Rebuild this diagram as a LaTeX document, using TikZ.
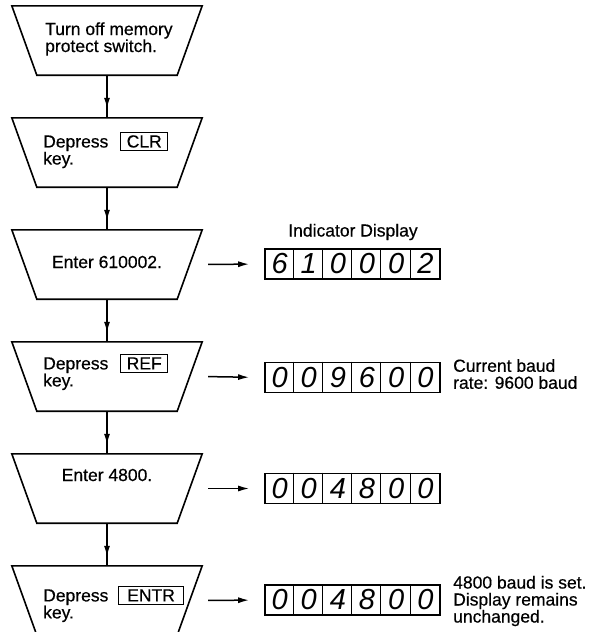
\documentclass[tikz,border=0pt]{standalone}
\usepackage{fontspec}
\setmainfont{Liberation Sans}
\newfontfamily\bodyfont{Liberation Sans}[FakeBold=0.5]
\usetikzlibrary{arrows.meta,decorations.markings,calc}
\newcommand\keyb[2][3pt]{{\setlength\fboxsep{2.5pt}\setlength\fboxrule{0.9pt}\fbox{\hspace{#1}#2\hspace{#1}}}}
\newcommand\dg[1]{\makebox[29.1667pt]{#1}}
\begin{document}
\begin{tikzpicture}[x=1pt,y=-1pt,
  trap/.style={minimum width=190pt, minimum height=69pt, inner sep=0pt},
  txt/.style={font=\bodyfont\fontsize{17.5}{17}\selectfont, align=left, inner sep=0pt},
  disp/.style={draw, line width=1.6pt, minimum width=175pt, minimum height=30pt, inner sep=0pt},
  dig/.style={font=\fontsize{29}{29}\selectfont\itshape, inner sep=0pt},
  varr/.style={line width=1.5pt, postaction={decorate},
    decoration={markings, mark=at position -9pt with {\arrow{Latex[length=11pt,width=6pt]}}}},
  harr/.style={line width=1.5pt, -{Latex[length=11pt,width=6pt]}, shorten <=6pt, shorten >=15pt}
]
\useasboundingbox (0,0) rectangle (595,632);
% flow boxes
\node[trap] (b1) at (107,40.5) {};
\node[trap] (b2) at (107,152.5) {};
\node[trap] (b3) at (107,264.5) {};
\node[trap] (b4) at (107,376.5) {};
\node[trap] (b5) at (107,488.5) {};
\node[trap] (b6) at (107,600.5) {};
\foreach \n in {b1,b2,b3,b4,b5,b6}
  \draw[line width=1.6pt, line join=miter] (\n.north west) -- (\n.north east)
    -- ([xshift=-25pt]\n.south east) -- ([xshift=25pt]\n.south west) -- cycle;
% texts
\node[txt, anchor=west] (t1) at (45,39) {Turn off memory\\protect switch.};
\node[txt, anchor=west] (t2) at (43,150) {Depress\hspace{12pt}\keyb{CLR}\\key.};
\node[txt] (t3) at (107,262) {Enter 610002.};
\node[txt, anchor=west] (t4) at (43,372) {Depress\hspace{12pt}\keyb{REF}\\key.};
\node[txt] (t5) at (107,475) {Enter 4800.};
\node[txt, anchor=west] (t6) at (43,604) {Depress\hspace{10pt}\keyb[5.5pt]{ENTR}\\key.};
% vertical arrows
\draw[varr] (b1.south) -- (b2.north);
\draw[varr] (b2.south) -- (b3.north);
\draw[varr] (b3.south) -- (b4.north);
\draw[varr] (b4.south) -- (b5.north);
\draw[varr] (b5.south) -- (b6.north);
% displays
\node[disp] (d1) at (352.5,264) {};
\node[disp] (d2) at (352.5,377.5) {};
\node[disp] (d3) at (352.5,488.5) {};
\node[disp] (d4) at (352.5,600) {};
\foreach \d in {d1,d2,d3,d4}
  \foreach \i in {1,...,5}
    \draw[line width=0.8pt] ($(\d.north west)+(\i*29.1667,0)$) -- ($(\d.south west)+(\i*29.1667,0)$);
\node[dig] (n1) at (d1) {\dg6\dg1\dg0\dg0\dg0\dg2};
\node[dig] (n2) at (d2) {\dg0\dg0\dg9\dg6\dg0\dg0};
\node[dig] (n3) at (d3) {\dg0\dg0\dg4\dg8\dg0\dg0};
\node[dig] (n4) at (d4) {\dg0\dg0\dg4\dg8\dg0\dg0};
% horizontal arrows
\draw[harr] (b3.east) -- (d1.west);
\draw[harr] (b4.east) -- (d2.west);
\draw[harr] (b5.east) -- (d3.west);
\draw[harr] (b6.east) -- (d4.west);
% labels
\node[txt] (ind) at (353,232) {Indicator Display};
\node[txt, anchor=west] (a2) at (453,374) {Current baud\\rate: 9600 baud};
\node[txt, anchor=west] (a4) at (453,601) {4800 baud is set.\\Display remains\\unchanged.};
\end{tikzpicture}
\end{document}
